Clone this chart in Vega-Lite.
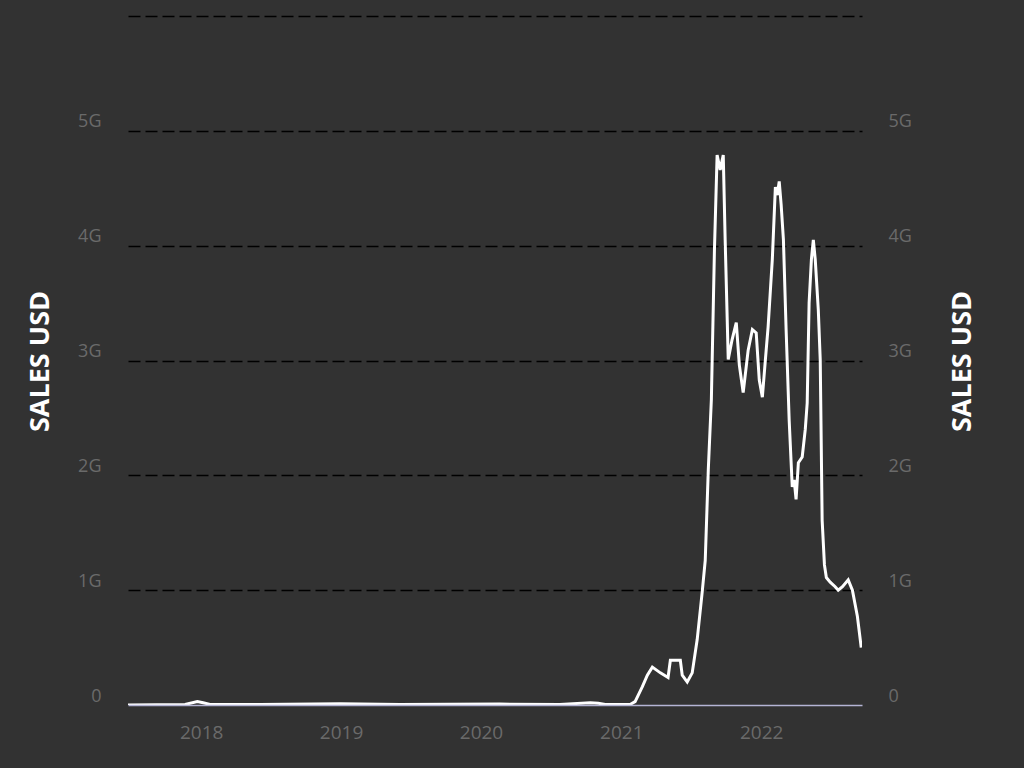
{
  "$schema": "https://vega.github.io/schema/vega-lite/v6.json",
  "width": 734,
  "height": 689,
  "autosize": {"type": "none"},
  "padding": {"left": 128, "top": 16, "right": 162, "bottom": 63},
  "background": "#323232",
  "config": {
    "view": {"stroke": null},
    "font": "Open Sans"
  },
  "data": {
    "values": [
      {"date": "2017-06-24", "sales": 0},
      {"date": "2017-11-20", "sales": 0.005e9},
      {"date": "2017-12-22", "sales": 0.03e9},
      {"date": "2018-01-06", "sales": 0.02e9},
      {"date": "2018-01-24", "sales": 0.005e9},
      {"date": "2018-06-04", "sales": 0.005e9},
      {"date": "2018-12-30", "sales": 0.01e9},
      {"date": "2019-06-04", "sales": 0.005e9},
      {"date": "2020-02-19", "sales": 0.008e9},
      {"date": "2020-07-25", "sales": 0.005e9},
      {"date": "2020-10-12", "sales": 0.02e9},
      {"date": "2020-11-02", "sales": 0.015e9},
      {"date": "2020-11-20", "sales": 0.005e9},
      {"date": "2021-01-24", "sales": 0.005e9},
      {"date": "2021-02-06", "sales": 0.03e9},
      {"date": "2021-02-25", "sales": 0.16e9},
      {"date": "2021-03-10", "sales": 0.26e9},
      {"date": "2021-03-23", "sales": 0.33e9},
      {"date": "2021-04-13", "sales": 0.28e9},
      {"date": "2021-05-03", "sales": 0.24e9},
      {"date": "2021-05-09", "sales": 0.39e9},
      {"date": "2021-06-04", "sales": 0.39e9},
      {"date": "2021-06-09", "sales": 0.26e9},
      {"date": "2021-06-22", "sales": 0.20e9},
      {"date": "2021-07-05", "sales": 0.28e9},
      {"date": "2021-07-18", "sales": 0.57e9},
      {"date": "2021-07-31", "sales": 0.98e9},
      {"date": "2021-08-08", "sales": 1.26e9},
      {"date": "2021-08-16", "sales": 2.05e9},
      {"date": "2021-08-24", "sales": 2.66e9},
      {"date": "2021-09-01", "sales": 3.96e9},
      {"date": "2021-09-08", "sales": 4.79e9},
      {"date": "2021-09-16", "sales": 4.66e9},
      {"date": "2021-09-24", "sales": 4.79e9},
      {"date": "2021-09-29", "sales": 4.05e9},
      {"date": "2021-10-07", "sales": 3.01e9},
      {"date": "2021-10-17", "sales": 3.18e9},
      {"date": "2021-10-28", "sales": 3.33e9},
      {"date": "2021-11-05", "sales": 2.96e9},
      {"date": "2021-11-15", "sales": 2.72e9},
      {"date": "2021-11-28", "sales": 3.09e9},
      {"date": "2021-12-09", "sales": 3.27e9},
      {"date": "2021-12-19", "sales": 3.24e9},
      {"date": "2021-12-27", "sales": 2.83e9},
      {"date": "2022-01-04", "sales": 2.68e9},
      {"date": "2022-01-12", "sales": 3.01e9},
      {"date": "2022-01-19", "sales": 3.29e9},
      {"date": "2022-01-30", "sales": 3.88e9},
      {"date": "2022-02-07", "sales": 4.51e9},
      {"date": "2022-02-12", "sales": 4.44e9},
      {"date": "2022-02-17", "sales": 4.56e9},
      {"date": "2022-02-22", "sales": 4.36e9},
      {"date": "2022-02-28", "sales": 4.05e9},
      {"date": "2022-03-07", "sales": 3.27e9},
      {"date": "2022-03-15", "sales": 2.48e9},
      {"date": "2022-03-23", "sales": 1.90e9},
      {"date": "2022-03-28", "sales": 1.96e9},
      {"date": "2022-04-02", "sales": 1.79e9},
      {"date": "2022-04-08", "sales": 2.11e9},
      {"date": "2022-04-18", "sales": 2.16e9},
      {"date": "2022-04-26", "sales": 2.40e9},
      {"date": "2022-05-01", "sales": 2.63e9},
      {"date": "2022-05-06", "sales": 3.50e9},
      {"date": "2022-05-12", "sales": 3.88e9},
      {"date": "2022-05-17", "sales": 4.05e9},
      {"date": "2022-05-22", "sales": 3.88e9},
      {"date": "2022-05-30", "sales": 3.44e9},
      {"date": "2022-06-04", "sales": 3.01e9},
      {"date": "2022-06-09", "sales": 1.61e9},
      {"date": "2022-06-15", "sales": 1.22e9},
      {"date": "2022-06-20", "sales": 1.11e9},
      {"date": "2022-06-30", "sales": 1.07e9},
      {"date": "2022-07-13", "sales": 1.03e9},
      {"date": "2022-07-21", "sales": 1.00e9},
      {"date": "2022-08-01", "sales": 1.03e9},
      {"date": "2022-08-16", "sales": 1.09e9},
      {"date": "2022-08-27", "sales": 1.00e9},
      {"date": "2022-09-09", "sales": 0.77e9},
      {"date": "2022-09-19", "sales": 0.50e9}
    ]
  },
  "encoding": {
    "x": {
      "field": "date",
      "type": "temporal",
      "scale": {"domain": ["2017-06-24", "2022-09-21"]},
      "axis": {
        "title": null,
        "format": "%Y",
        "tickCount": {"interval": "year", "step": 1},
        "ticks": false,
        "grid": false,
        "domain": true,
        "domainColor": "#b4b4d4",
        "domainWidth": 1.5,
        "labelColor": "#6a6a6a",
        "labelFontSize": 19,
        "labelPadding": 18,
        "zindex": 1
      }
    }
  },
  "layer": [
    {
      "mark": {"type": "line", "color": "#ffffff", "strokeWidth": 3, "clip": true},
      "encoding": {
        "y": {
          "field": "sales",
          "type": "quantitative",
          "scale": {"domain": [0, 6000000000], "nice": false},
          "axis": {
            "orient": "left",
            "title": "SALES USD",
            "titleColor": "#ffffff",
            "titleFontSize": 27,
            "titleFontWeight": "bold",
            "titleAngle": -90,
            "titleAlign": "center",
            "titleBaseline": "middle",
            "titleX": -88,
            "titleY": 345,
            "values": [0, 1000000000, 2000000000, 3000000000, 4000000000, 5000000000, 6000000000],
            "labelExpr": "datum.value >= 6000000000 ? '' : format(datum.value, '~s')",
            "labelColor": "#6a6a6a",
            "labelFontSize": 18,
            "labelPadding": 27,
            "labelBaseline": "bottom",
            "labelOffset": 0,
            "ticks": false,
            "domain": false,
            "grid": true,
            "gridColor": "#000000",
            "gridDash": [12, 5],
            "gridWidth": 1.5,
            "gridOpacity": {"expr": "datum.value == 0 ? 0 : 1"}
          }
        }
      }
    },
    {
      "mark": {"type": "line", "opacity": 0},
      "encoding": {
        "y": {
          "field": "sales",
          "type": "quantitative",
          "scale": {"domain": [0, 6000000000], "nice": false},
          "axis": {
            "orient": "right",
            "title": "SALES USD",
            "titleColor": "#ffffff",
            "titleFontSize": 27,
            "titleFontWeight": "bold",
            "titleAngle": -90,
            "titleAlign": "center",
            "titleBaseline": "middle",
            "titleX": 100,
            "titleY": 345,
            "values": [0, 1000000000, 2000000000, 3000000000, 4000000000, 5000000000],
            "labelExpr": "format(datum.value, '~s')",
            "labelColor": "#6a6a6a",
            "labelFontSize": 18,
            "labelPadding": 26,
            "labelBaseline": "bottom",
            "labelOffset": 0,
            "ticks": false,
            "domain": false,
            "grid": false
          }
        }
      }
    }
  ],
  "resolve": {"axis": {"y": "independent"}}
}
